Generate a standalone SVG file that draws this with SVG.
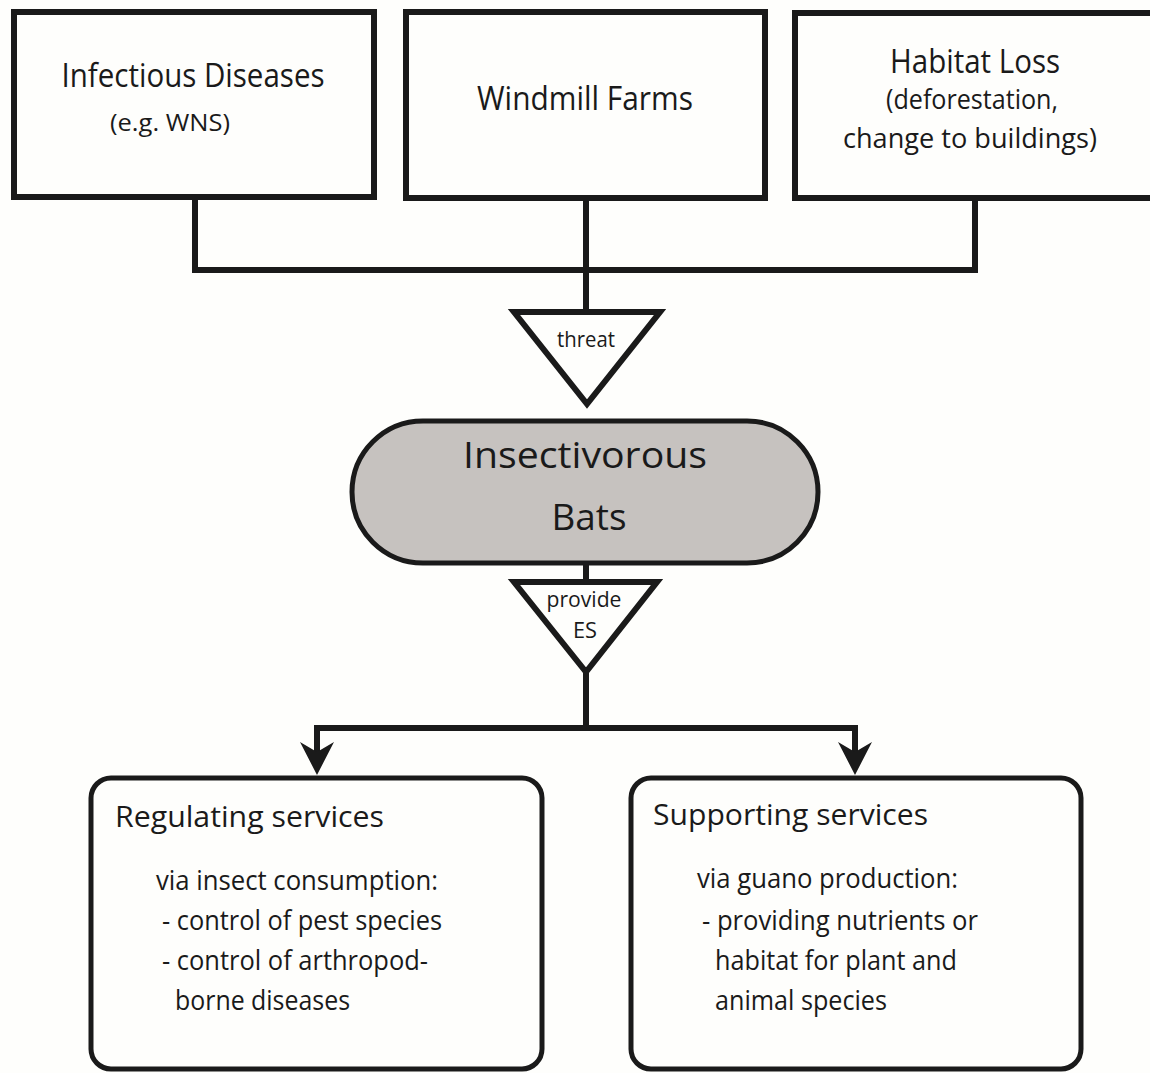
<svg xmlns="http://www.w3.org/2000/svg" width="1150" height="1073" viewBox="0 0 1150 1073">
  <style>
    .box { fill: #fefefc; stroke: #1a1a1a; stroke-width: 6; }
    .pill { fill: #c6c2bf; stroke: #1a1a1a; stroke-width: 5; }
    .tri { fill: #fefefc; stroke: #1a1a1a; stroke-width: 6; stroke-linejoin: miter; stroke-miterlimit: 10; }
    .svc { fill: #fefefc; stroke: #1a1a1a; stroke-width: 5; }
    .conn { fill: none; stroke: #1a1a1a; stroke-width: 6; stroke-linejoin: miter; }
    text { font-family: "Open Sans", "Noto Sans", "Liberation Sans", sans-serif; fill: #1a1a1a; }
    .t1 { font-size: 32px; }
    .t2 { font-size: 27px; }
    .t3 { font-size: 24px; }
    .lbl { font-size: 21px; }
    .big { font-size: 37px; }
    .h { font-size: 30px; }
    .b { font-size: 27px; }
  </style>
  <defs>
    <marker id="arrow" markerUnits="userSpaceOnUse" markerWidth="34" markerHeight="34" viewBox="0 0 34 34" refX="18" refY="17" orient="auto">
      <path d="M0,0 L33,17 L0,34 L10,17 Z" fill="#1a1a1a"/>
    </marker>
  </defs>
  <rect width="1150" height="1073" fill="#fefefc"/>

  <g id="connectors">
    <path class="conn" d="M195,198 V270 H975 V198"/>
    <path class="conn" d="M586,198 V312"/>
    <path class="conn" d="M586,563 V582"/>
    <path class="conn" d="M586,670 V728"/>
    <path class="conn" d="M317,728 H855"/>
    <path class="conn" d="M317,725 V760" marker-end="url(#arrow)"/>
    <path class="conn" d="M855,725 V760" marker-end="url(#arrow)"/>
  </g>

  <g id="node-infectious">
    <rect class="box" x="14" y="12" width="360" height="185"/>
    <text class="t1" x="193" y="87" text-anchor="middle" textLength="263" lengthAdjust="spacingAndGlyphs">Infectious Diseases</text>
    <text class="t3" x="170" y="131" text-anchor="middle" textLength="120" lengthAdjust="spacingAndGlyphs">(e.g. WNS)</text>
  </g>

  <g id="node-windmill">
    <rect class="box" x="406" y="12" width="359" height="186"/>
    <text class="t1" x="585" y="110" text-anchor="middle" textLength="216" lengthAdjust="spacingAndGlyphs">Windmill Farms</text>
  </g>

  <g id="node-habitat">
    <rect class="box" x="795" y="13" width="362" height="185"/>
    <text class="t1" x="975" y="73" text-anchor="middle" textLength="170" lengthAdjust="spacingAndGlyphs">Habitat Loss</text>
    <text class="t2" x="972" y="109" text-anchor="middle" textLength="172" lengthAdjust="spacingAndGlyphs">(deforestation,</text>
    <text class="t2" x="970" y="148" text-anchor="middle" textLength="254" lengthAdjust="spacingAndGlyphs">change to buildings)</text>
  </g>

  <g id="node-threat">
    <polygon class="tri" points="514,312 660,312 587,404"/>
    <text class="lbl" x="586" y="347" text-anchor="middle" textLength="58" lengthAdjust="spacingAndGlyphs">threat</text>
  </g>

  <g id="node-bats">
    <rect class="pill" x="352" y="421" width="466" height="142" rx="71" ry="71"/>
    <text class="big" x="585" y="468" text-anchor="middle" textLength="244" lengthAdjust="spacingAndGlyphs">Insectivorous</text>
    <text class="big" x="589" y="530" text-anchor="middle" textLength="75" lengthAdjust="spacingAndGlyphs">Bats</text>
  </g>

  <g id="node-provide">
    <polygon class="tri" points="514,582 657,582 586,672"/>
    <text class="lbl" x="584" y="607" text-anchor="middle" textLength="75" lengthAdjust="spacingAndGlyphs">provide</text>
    <text class="lbl" x="585" y="638" text-anchor="middle" textLength="24" lengthAdjust="spacingAndGlyphs">ES</text>
  </g>

  <g id="node-regulating">
    <rect class="svc" x="91" y="778" width="451" height="291" rx="20" ry="20"/>
    <text class="h" x="115" y="827" textLength="269" lengthAdjust="spacingAndGlyphs">Regulating services</text>
    <text class="b" x="156" y="890" textLength="282" lengthAdjust="spacingAndGlyphs">via insect consumption:</text>
    <text class="b" x="162" y="930" textLength="280" lengthAdjust="spacingAndGlyphs">- control of pest species</text>
    <text class="b" x="162" y="970" textLength="266" lengthAdjust="spacingAndGlyphs">- control of arthropod-</text>
    <text class="b" x="175" y="1010" textLength="175" lengthAdjust="spacingAndGlyphs">borne diseases</text>
  </g>

  <g id="node-supporting">
    <rect class="svc" x="631" y="778" width="450" height="291" rx="20" ry="20"/>
    <text class="h" x="653" y="825" textLength="275" lengthAdjust="spacingAndGlyphs">Supporting services</text>
    <text class="b" x="697" y="888" textLength="261" lengthAdjust="spacingAndGlyphs">via guano production:</text>
    <text class="b" x="702" y="930" textLength="276" lengthAdjust="spacingAndGlyphs">- providing nutrients or</text>
    <text class="b" x="715" y="970" textLength="242" lengthAdjust="spacingAndGlyphs">habitat for plant and</text>
    <text class="b" x="715" y="1010" textLength="172" lengthAdjust="spacingAndGlyphs">animal species</text>
  </g>
</svg>
